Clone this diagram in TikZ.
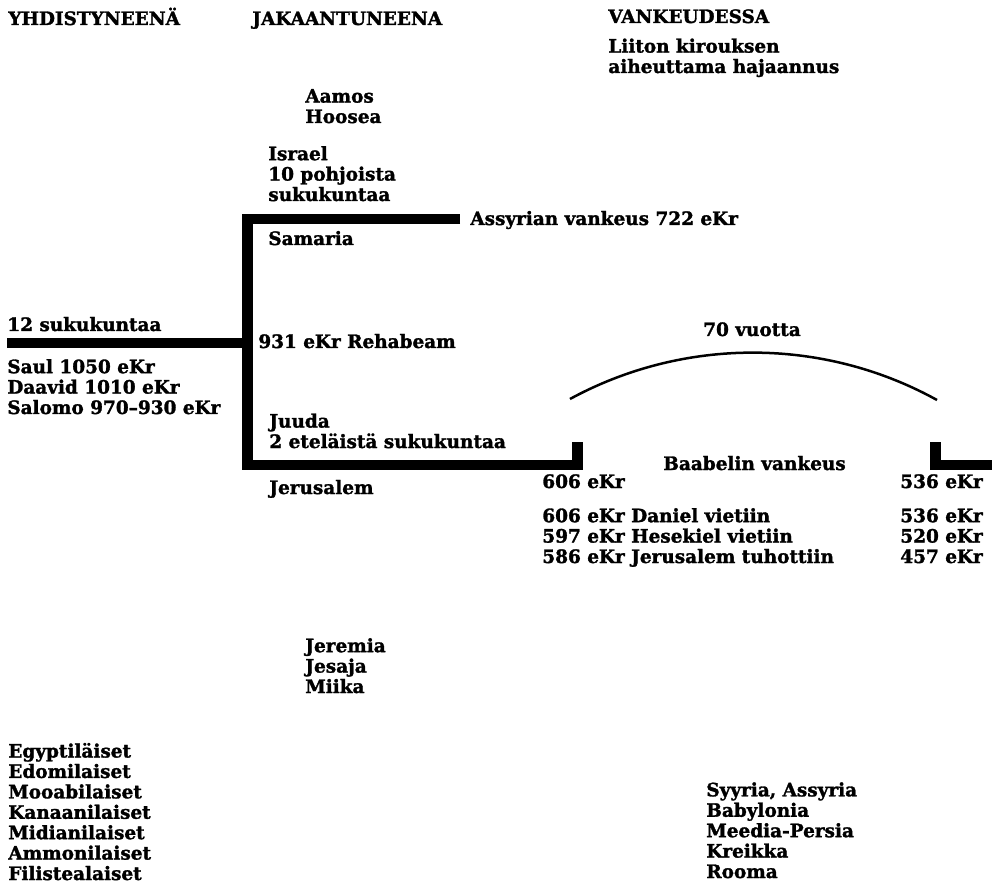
\documentclass[tikz,border=0pt]{standalone}
\usepackage{fontspec}
\setmainfont{DejaVu Serif}[BoldFeatures={FakeBold=1.6}]
\usetikzlibrary{calc}

\begin{document}
\begin{tikzpicture}[x=0.02cm, y=-0.02cm,
  txt/.style={anchor=base west, inner sep=0pt, align=left,
    font=\fontsize{10.5}{11.62}\selectfont\bfseries},
  bar/.style={line width=0.22cm, line join=miter, line cap=butt},
  span/.style={line width=0.05cm}]
\useasboundingbox (0,0) rectangle (992,882);
% ---------------- column headings ----------------
\node[txt] (hUnited) at (8,25) {YHDISTYNEENÄ};
\node[txt] (hDivided) at (252,25) {JAKAANTUNEENA};
\node[txt] (hExile) at (608,23) {VANKEUDESSA};
\node[txt] (curse) at (608,73) {Liiton kirouksen\\aiheuttama hajaannus};
% ---------------- the kingdom lines ----------------
\coordinate (unitedStart) at (7,343);
\coordinate (split) at (247,343);
\coordinate (northCorner) at (247,219);
\coordinate (northEnd) at (460,219);
\coordinate (southCorner) at (247,465);
\coordinate (southEnd) at (577,465);
\coordinate (southTick) at (577,442);
\coordinate (returnTick) at (935,442);
\coordinate (returnCorner) at (935,465);
\coordinate (returnEnd) at (1000,465);
\draw[bar] (unitedStart) -- (split);
\draw[bar] (northEnd) -- (northCorner) -- (southCorner) -- (southEnd) -- (southTick);
\draw[bar] (returnTick) -- (returnCorner) -- (returnEnd);
% 70 years span over the exile
\coordinate (spanL) at (570,399);
\coordinate (spanR) at (937,400);
\draw[span] (spanL) .. controls (684,337) and (823,337) .. (spanR);
\node[txt, anchor=base] (seventy) at (752,336) {70 vuotta};
% ---------------- united kingdom ----------------
% (multi-line labels are placed at the baseline of their last line)
\node[txt] (tribes) at (7,331) {12 sukukuntaa};
\node[txt] (kings) at (7,414) {Saul 1050 eKr\\Daavid 1010 eKr\\Salomo 970--930 eKr};
% ---------------- divided kingdom ----------------
\node[txt] (prophN) at (305,123) {Aamos\\Hoosea};
\node[txt] (israel) at (268,201) {Israel\\10 pohjoista\\sukukuntaa};
\node[txt] (samaria) at (268,245) {Samaria};
\node[txt] (assyria) at (470,225) {Assyrian vankeus 722 eKr};
\node[txt] (rehab) at (258,348) {931 eKr Rehabeam};
\node[txt] (juuda) at (269,448) {Juuda\\2 eteläistä sukukuntaa};
\node[txt] (jerus) at (269,494) {Jerusalem};
\node[txt] (prophS) at (305,693) {Jeremia\\Jesaja\\Miika};
% ---------------- exile ----------------
\node[txt] (exileStart) at (542,488) {606 eKr};
\node[txt] (deport) at (542,563) {606 eKr Daniel vietiin\\597 eKr Hesekiel vietiin\\586 eKr Jerusalem tuhottiin};
\node[txt] (babel) at (663,470) {Baabelin vankeus};
\node[txt] (exileEnd) at (900,488) {536 eKr};
\node[txt] (returns) at (900,563) {536 eKr\\520 eKr\\457 eKr};
% ---------------- neighbours and empires ----------------
\node[txt] (nations) at (8,880) {Egyptiläiset\\Edomilaiset\\Mooabilaiset\\Kanaanilaiset\\Midianilaiset\\Ammonilaiset\\Filistealaiset};
\node[txt] (empires) at (706,878) {Syyria, Assyria\\Babylonia\\Meedia-Persia\\Kreikka\\Rooma};
\end{tikzpicture}
\end{document}
